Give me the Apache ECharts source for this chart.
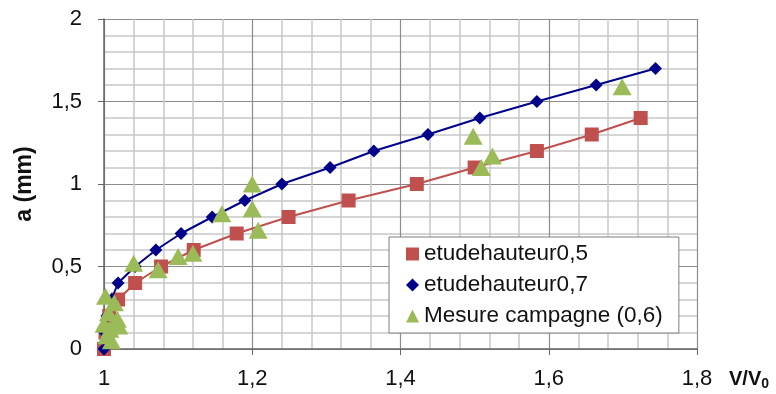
<!DOCTYPE html>
<html>
<head>
<meta charset="utf-8">
<script src="https://cdn.jsdelivr.net/npm/echarts@6/dist/echarts.min.js"></script>
<style>html,body{margin:0;padding:0;background:#fff}#c{width:776px;height:394px}</style>
</head>
<body>
<div id="c"></div>
<script>
var redX = [1.000, 1.002, 1.007, 1.019, 1.042, 1.077, 1.121, 1.179, 1.249, 1.330, 1.422, 1.500, 1.584, 1.658, 1.724];
var redY = [0, 0.1, 0.2, 0.3, 0.4, 0.5, 0.6, 0.7, 0.8, 0.9, 1.0, 1.1, 1.2, 1.3, 1.4];
var blueX = [1.000, 1.001, 1.004, 1.010, 1.019, 1.042, 1.070, 1.104, 1.146, 1.190, 1.240, 1.305, 1.364, 1.437, 1.507, 1.584, 1.664, 1.744];
var blueY = [0, 0.1, 0.2, 0.3, 0.4, 0.5, 0.6, 0.7, 0.8, 0.9, 1.0, 1.1, 1.2, 1.3, 1.4, 1.5, 1.6, 1.7];
var greenX = [1.000, 1.002, 1.004, 1.006, 1.008, 1.010, 1.014, 1.018, 1.020, 1.040, 1.073, 1.100, 1.120, 1.159, 1.200, 1.200, 1.208, 1.498, 1.509, 1.524, 1.699];
var greenY = [0.15, 0.32, 0.08, 0.22, 0.12, 0.05, 0.28, 0.18, 0.14, 0.52, 0.48, 0.56, 0.58, 0.82, 1.00, 0.85, 0.72, 1.29, 1.10, 1.17, 1.59];
var names = ['etudehauteur0,5', 'etudehauteur0,7', 'Mesure campagne (0,6)'];

function pairs(xs, ys) { return xs.map(function (x, i) { return [x, ys[i]]; }); }
function comma(v) { return String(+v.toFixed(2)).replace('.', ','); }

var chart = echarts.init(document.getElementById('c'), null, { renderer: 'canvas' });
var font = 'Liberation Sans, Arial, sans-serif';
chart.setOption({
  animation: false,
  textStyle: { fontFamily: font },
  grid: { left: 104, right: 79, top: 19, bottom: 45, show: false },
  legend: {
    orient: 'vertical', left: 389, top: 237,
    backgroundColor: '#fff', borderColor: '#7f7f7f', borderWidth: 1,
    padding: [5, 16, 5, 17], itemGap: 7, itemWidth: 13, itemHeight: 13,
    textStyle: { fontSize: 22.5, color: '#111', fontFamily: font, lineHeight: 24 },
    data: [
      { name: names[0], icon: 'rect' },
      { name: names[1], icon: 'diamond' },
      { name: names[2], icon: 'triangle' }
    ]
  },
  xAxis: {
    type: 'value', min: 1, max: 1.8, interval: 0.2,
    axisLine: { show: true, onZero: false, lineStyle: { color: '#666', width: 1.5 } },
    axisTick: { show: true, length: 6, lineStyle: { color: '#666' } },
    axisLabel: { fontSize: 22, color: '#111', margin: 19, formatter: comma },
    splitLine: { show: true, lineStyle: { color: '#8c8c8c', width: 1.2 } },
    minorTick: { show: false, splitNumber: 5 },
    minorSplitLine: { show: true, lineStyle: { color: '#c8c8c8', width: 1.5 } },
    name: '{b|V/V}{s|0}', nameLocation: 'end', nameGap: 32,
    nameTextStyle: {
      verticalAlign: 'top', padding: [18, 0, 0, 0],
      rich: {
        b: { fontSize: 20, fontWeight: 'bold', color: '#111', fontFamily: font },
        s: { fontSize: 14, fontWeight: 'bold', color: '#111', fontFamily: font, verticalAlign: 'bottom', padding: [10, 0, 0, 0] }
      }
    }
  },
  yAxis: {
    type: 'value', min: 0, max: 2, interval: 0.5,
    axisLine: { show: true, onZero: false, lineStyle: { color: '#666', width: 1.5 } },
    axisTick: { show: true, length: 6, lineStyle: { color: '#666' } },
    axisLabel: { fontSize: 22, color: '#111', margin: 22, formatter: comma },
    splitLine: { show: true, lineStyle: { color: '#8c8c8c', width: 1.2 } },
    minorTick: { show: false, splitNumber: 5 },
    minorSplitLine: { show: true, lineStyle: { color: '#c8c8c8', width: 1.5 } },
    name: 'a (mm)', nameLocation: 'middle', nameGap: 68, nameRotate: 90,
    nameTextStyle: { fontSize: 23, fontWeight: 'bold', color: '#111' }
  },
  series: [
    {
      name: names[0], type: 'line', data: pairs(redX, redY),
      symbol: 'rect', symbolSize: 14, z: 2,
      lineStyle: { color: '#c0504d', width: 2 },
      itemStyle: { color: '#c0504d' }
    },
    {
      name: names[1], type: 'line', data: pairs(blueX, blueY),
      symbol: 'diamond', symbolSize: 13, z: 3,
      lineStyle: { color: '#00008b', width: 2 },
      itemStyle: { color: '#00008b' }
    },
    {
      name: names[2], type: 'scatter', data: pairs(greenX, greenY),
      symbol: 'triangle', symbolSize: [19, 17], z: 4,
      itemStyle: { color: '#9bbb59', opacity: 1 }
    }
  ]
});
</script>
</body>
</html>
